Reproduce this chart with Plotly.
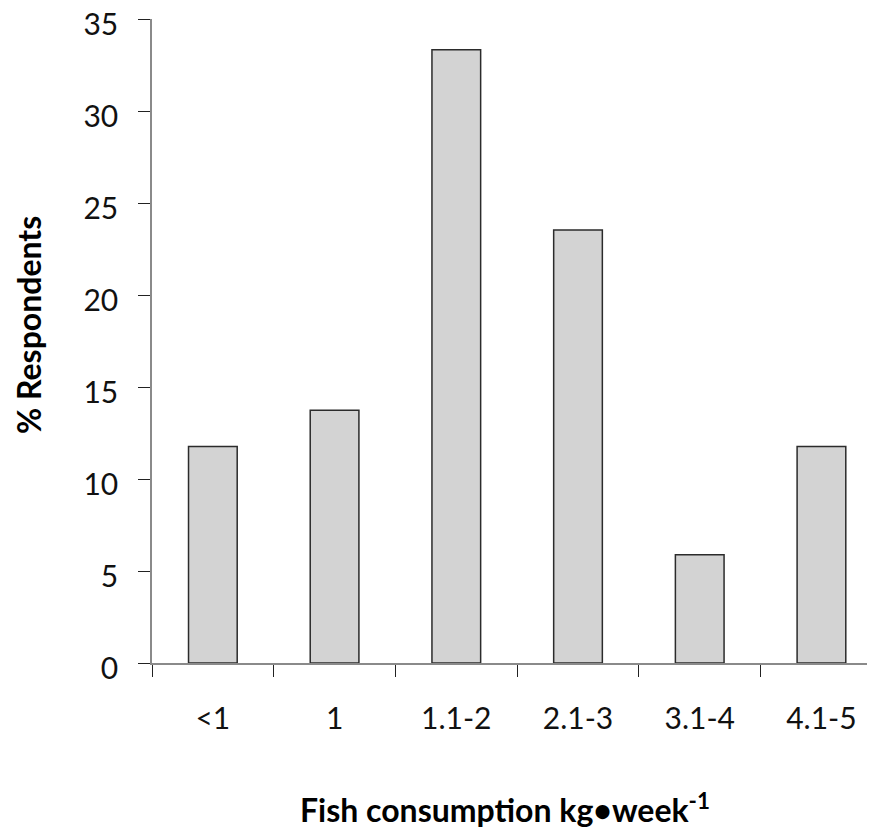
import plotly.graph_objects as go

categories = ["<1", "1", "1.1-2", "2.1-3", "3.1-4", "4.1-5"]
respondents_pct = [11.76, 13.73, 33.33, 23.53, 5.88, 11.76]
y_ticks = [0, 5, 10, 15, 20, 25, 30, 35]

# page body has an 8px default margin; size the figure to fit the viewport
OFF = 8
W, H = 875 - OFF, 833 - OFF
L, R, T, B = 152 - OFF, 0, 19 - OFF, 833 - 663
pw, ph = W - L - R, H - T - B

def px_x(x):
    return (x - OFF - L) / pw

def px_y(y):
    return (H - B - (y - OFF)) / ph

fig = go.Figure()
fig.add_trace(go.Bar(
    x=categories,
    y=respondents_pct,
    width=0.4,
    marker=dict(color="#d3d3d3", line=dict(color="#2b2b2b", width=1.5)),
    hoverinfo="skip",
))

fig.update_layout(
    width=W, height=H,
    margin=dict(l=L, r=R, t=T, b=B, pad=0, autoexpand=False),
    paper_bgcolor="white", plot_bgcolor="white",
    showlegend=False,
    font=dict(family="Lato, 'Open Sans', sans-serif", color="#000"),
    xaxis=dict(
        type="category",
        range=[-0.5, 5.44],
        tickson="boundaries",
        ticks="outside", ticklen=12, tickwidth=1.3, tickcolor="#222",
        showline=True, linecolor="#8a8a8a", linewidth=1.5,
        showgrid=False, zeroline=False,
        tickfont=dict(size=30, color="#111"),
        ticklabelstandoff=28,
        ticklabeloverflow="allow",
    ),
    yaxis=dict(
        range=[0, 35],
        tickmode="array", tickvals=y_ticks,
        ticks="outside", ticklen=12, tickwidth=1.3, tickcolor="#222",
        showline=True, linecolor="#8a8a8a", linewidth=1.5,
        showgrid=False, zeroline=False,
        tickfont=dict(size=30, color="#111"),
        ticklabelstandoff=14,
        ticklabelshift=5,
        ticklabeloverflow="allow",
    ),
    annotations=[
        dict(text="<b>% Respondents</b>", xref="paper", yref="paper",
             x=px_x(29), y=px_y(325), textangle=-90, showarrow=False,
             xanchor="center", yanchor="middle",
             font=dict(size=32, color="#000")),
        dict(text="<b>Fish consumption kg•week<sup>-1</sup></b>", xref="paper", yref="paper",
             x=px_x(505), y=px_y(808), showarrow=False,
             xanchor="center", yanchor="middle",
             font=dict(size=32, color="#000")),
    ],
)

fig.write_html("out.html")
